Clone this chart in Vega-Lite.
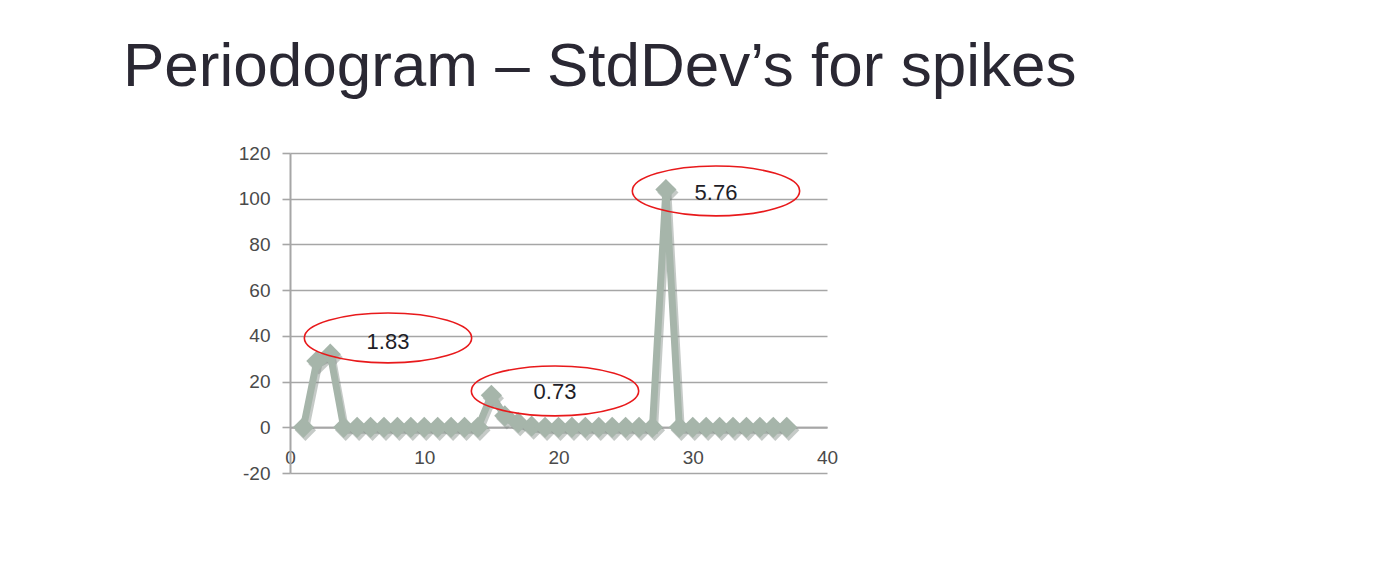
{
  "$schema": "https://vega.github.io/schema/vega-lite/v6.json",
  "autosize": "none",
  "width": 537,
  "height": 320,
  "padding": {"left": 290, "top": 153, "right": 555, "bottom": 104},
  "background": "white",
  "title": {
    "text": "Periodogram – StdDev’s for spikes",
    "anchor": "start",
    "frame": "group",
    "dx": -167,
    "dy": 54,
    "font": "Liberation Sans",
    "fontSize": 62,
    "fontWeight": "normal",
    "color": "#2a2833",
    "baseline": "alphabetic",
    "offset": 50
  },
  "config": {
    "view": {"stroke": null},
    "axis": {
      "labelFont": "Liberation Sans",
      "labelFontSize": 19,
      "labelColor": "#4a4a4a",
      "domainColor": "#a6a6a6",
      "tickColor": "#a6a6a6",
      "gridColor": "#a6a6a6"
    }
  },
  "datasets": {
    "series": [
      {"k": 1, "v": 0}, {"k": 2, "v": 29}, {"k": 3, "v": 32}, {"k": 4, "v": 0},
      {"k": 5, "v": 0}, {"k": 6, "v": 0}, {"k": 7, "v": 0}, {"k": 8, "v": 0},
      {"k": 9, "v": 0}, {"k": 10, "v": 0}, {"k": 11, "v": 0}, {"k": 12, "v": 0},
      {"k": 13, "v": 0}, {"k": 14, "v": 0}, {"k": 15, "v": 14}, {"k": 16, "v": 5},
      {"k": 17, "v": 2}, {"k": 18, "v": 0.5}, {"k": 19, "v": 0}, {"k": 20, "v": 0},
      {"k": 21, "v": 0}, {"k": 22, "v": 0}, {"k": 23, "v": 0}, {"k": 24, "v": 0},
      {"k": 25, "v": 0}, {"k": 26, "v": 0}, {"k": 27, "v": 0}, {"k": 28, "v": 104},
      {"k": 29, "v": 0}, {"k": 30, "v": 0}, {"k": 31, "v": 0}, {"k": 32, "v": 0},
      {"k": 33, "v": 0}, {"k": 34, "v": 0}, {"k": 35, "v": 0}, {"k": 36, "v": 0},
      {"k": 37, "v": 0}
    ],
    "notes": [
      {"ex": 7.3, "ey": 39.1, "tx": 7.3, "ty": 37.4, "label": "1.83"},
      {"ex": 19.74, "ey": 15.9, "tx": 19.74, "ty": 15.3, "label": "0.73"},
      {"ex": 31.73, "ey": 103.4, "tx": 31.73, "ty": 102.4, "label": "5.76"}
    ]
  },
  "layer": [
    {
      "data": {"name": "series"},
      "mark": {"type": "line", "color": "#7f8a82", "opacity": 0.45, "strokeWidth": 7, "xOffset": 2, "yOffset": 3, "strokeJoin": "miter"},
      "encoding": {
        "x": {"field": "k", "type": "quantitative", "scale": {"domain": [0, 40], "nice": false},
              "axis": {"values": [0, 10, 20, 30, 40], "orient": "bottom", "offset": -45.7, "grid": false, "ticks": false, "domainWidth": 2, "labelPadding": 21, "labelFlush": false, "title": null}},
        "y": {"field": "v", "type": "quantitative", "scale": {"domain": [-20, 120], "nice": false},
              "axis": {"values": [-20, 0, 20, 40, 60, 80, 100, 120], "grid": true, "gridWidth": 1.6, "domainWidth": 2, "tickSize": 8, "tickWidth": 1.6, "labelPadding": 12, "labelExpr": "replace(datum.label, '−', '-')", "title": null}}
      }
    },
    {
      "data": {"name": "series"},
      "mark": {"type": "point", "shape": "diamond", "filled": true, "size": 450, "color": "#7f8a82", "opacity": 0.45, "xOffset": 2, "yOffset": 3},
      "encoding": {
        "x": {"field": "k", "type": "quantitative"},
        "y": {"field": "v", "type": "quantitative"}
      }
    },
    {
      "data": {"name": "series"},
      "mark": {"type": "line", "color": "#a6b5aa", "strokeWidth": 7, "strokeJoin": "miter"},
      "encoding": {
        "x": {"field": "k", "type": "quantitative"},
        "y": {"field": "v", "type": "quantitative"}
      }
    },
    {
      "data": {"name": "series"},
      "mark": {"type": "point", "shape": "diamond", "filled": true, "size": 450, "color": "#a6b5aa", "opacity": 1},
      "encoding": {
        "x": {"field": "k", "type": "quantitative"},
        "y": {"field": "v", "type": "quantitative"}
      }
    },
    {
      "data": {"name": "notes"},
      "mark": {"type": "point", "shape": "M -1 0 C -1 -0.1645 -0.5523 -0.298 0 -0.298 C 0.5523 -0.298 1 -0.1645 1 0 C 1 0.1645 0.5523 0.298 0 0.298 C -0.5523 0.298 -1 0.1645 -1 0 Z", "size": 28000, "filled": false, "stroke": "#e8191b", "strokeWidth": 1.6, "opacity": 1},
      "encoding": {
        "x": {"field": "ex", "type": "quantitative"},
        "y": {"field": "ey", "type": "quantitative"}
      }
    },
    {
      "data": {"name": "notes"},
      "mark": {"type": "text", "font": "Liberation Sans", "fontSize": 22, "color": "#1e1e28", "align": "center", "baseline": "middle"},
      "encoding": {
        "x": {"field": "tx", "type": "quantitative"},
        "y": {"field": "ty", "type": "quantitative"},
        "text": {"field": "label"}
      }
    }
  ]
}
